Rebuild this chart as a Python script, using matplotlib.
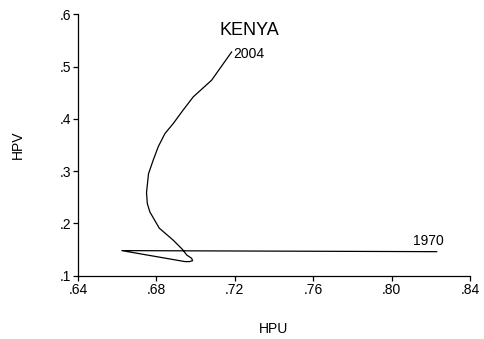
"""
Kenya: HP-filtered HPU against HPV, 1970-2004.
"""

import matplotlib
matplotlib.use("Agg")
import matplotlib.pyplot as plt

plt.rcParams["font.family"] = ["Liberation Sans", "DejaVu Sans"]

# path of the filtered series, from 1970 to 2004
hpu = [0.823, 0.6624, 0.6946, 0.6970, 0.6985, 0.6980, 0.6955, 0.6934,
       0.6886, 0.6815, 0.6767, 0.6754, 0.6750, 0.6760, 0.6784, 0.6810,
       0.6844, 0.6886, 0.6937, 0.6988, 0.7082, 0.7184]
hpv = [0.146, 0.148, 0.127, 0.127, 0.1287, 0.1333, 0.1396, 0.150,
       0.168, 0.191, 0.222, 0.238, 0.259, 0.295, 0.321, 0.347,
       0.372, 0.391, 0.417, 0.442, 0.474, 0.528]

xticks = [0.64, 0.68, 0.72, 0.76, 0.80, 0.84]
xticklabels = [".64", ".68", ".72", ".76", ".80", ".84"]
yticks = [0.1, 0.2, 0.3, 0.4, 0.5, 0.6]
yticklabels = [".1", ".2", ".3", ".4", ".5", ".6"]

fig = plt.figure(figsize=(4.84, 3.39), dpi=100)
ax = fig.add_axes([0.161, 0.1867, 0.81, 0.771])

ax.plot(hpu, hpv, color="black", lw=0.9)

ax.set_xlim(0.64, 0.84)
ax.set_ylim(0.1, 0.6)
ax.set_xticks(xticks)
ax.set_xticklabels(xticklabels)
ax.set_yticks(yticks)
ax.set_yticklabels(yticklabels)
ax.tick_params(direction="out", length=3.5, width=0.9, labelsize=10, pad=1.5)

for side in ("top", "right"):
    ax.spines[side].set_visible(False)
for side in ("left", "bottom"):
    ax.spines[side].set_linewidth(0.9)

# year labels at the two ends of the path
ax.annotate("1970", (hpu[0], hpv[0]), xytext=(-17, 5),
            textcoords="offset points", fontsize=10)
ax.annotate("2004", (hpu[-1], hpv[-1]), xytext=(1, -4),
            textcoords="offset points", fontsize=10)

ax.text(0.36, 0.92, "KENYA", transform=ax.transAxes, fontsize=13,
        va="baseline")

ax.set_xlabel("HPU", fontsize=10, labelpad=18)
ax.set_ylabel("HPV", fontsize=10, labelpad=25)

fig.savefig("out.png", dpi=100)
